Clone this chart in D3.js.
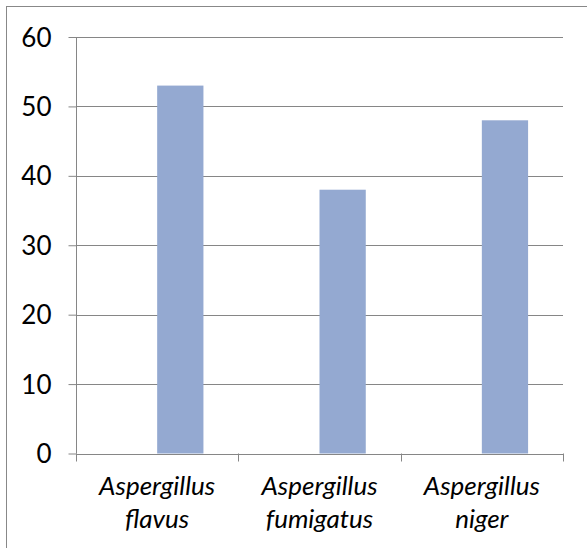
<!DOCTYPE html>
<html><head><meta charset="utf-8">
<script src="https://cdn.jsdelivr.net/npm/d3@7"></script>
<style>body{margin:0;background:#fff}</style>
</head><body>
<svg id="c" width="587" height="548"></svg>
<script>
const categories = [["Aspergillus","flavus"],["Aspergillus","fumigatus"],["Aspergillus","niger"]];
const values = [53, 38, 48];
const yTicks = [0, 10, 20, 30, 40, 50, 60];

const svg = d3.select("#c");
// outer border (only top & left visible)
svg.append("rect").attr("x", 6.5).attr("y", 6.5).attr("width", 620).attr("height", 600)
  .attr("fill", "none").attr("stroke", "#888").attr("stroke-width", 1);

const x0 = 76, x1 = 563, yTop = 37, yBot = 453.5;
const x = d3.scaleBand().domain(d3.range(categories.length)).range([x0, x1]);
const y = d3.scaleLinear().domain([0, 60]).range([yBot, yTop]);
const font = "Lato, 'Open Sans', sans-serif";

// gridlines
svg.append("g").selectAll("line").data(yTicks.filter(d => d > 0)).join("line")
  .attr("x1", x0).attr("x2", x1)
  .attr("y1", d => Math.round(y(d)) + 0.5).attr("y2", d => Math.round(y(d)) + 0.5)
  .attr("stroke", "#868686").attr("stroke-width", 1);

// bars (offset: start at band center, like an empty second series)
const bw = x.bandwidth();
svg.append("g").selectAll("rect").data(values).join("rect")
  .attr("x", (d, i) => x(i) + bw / 2)
  .attr("width", bw * 0.285)
  .attr("y", d => y(d))
  .attr("height", d => y(0) - y(d))
  .attr("fill", "#94a9d1");

// y axis
const yAxis = d3.axisLeft(y).tickValues(yTicks).tickSize(8).tickPadding(17);
const gy = svg.append("g").attr("transform", `translate(${x0 + 0.5},0)`).call(yAxis);
gy.select(".domain").attr("stroke", "#868686").attr("d", `M0,${yTop}V${yBot}`);
gy.selectAll(".tick line").attr("stroke", "#868686");
gy.selectAll(".tick text").attr("font-family", font).attr("font-size", 26).attr("fill", "#000")
  .attr("dy", "0.35em");

// x axis line and ticks
const gx = svg.append("g");
gx.append("line").attr("x1", x0).attr("x2", x1 + 0.5)
  .attr("y1", Math.round(yBot) + 0.5).attr("y2", Math.round(yBot) + 0.5)
  .attr("stroke", "#868686");
const bounds = d3.range(categories.length + 1).map(i => i < categories.length ? x(i) : x1);
gx.selectAll("line.t").data(bounds).join("line").attr("class", "t")
  .attr("x1", d => Math.round(d) + 0.5).attr("x2", d => Math.round(d) + 0.5)
  .attr("y1", yBot).attr("y2", yBot + 8).attr("stroke", "#868686");

// category labels
const lab = svg.append("g").selectAll("text").data(categories).join("text")
  .attr("text-anchor", "middle").attr("font-family", font).attr("font-style", "italic")
  .attr("font-size", 26).attr("fill", "#000");
lab.each(function(d, i) {
  const t = d3.select(this);
  d.forEach((s, j) => {
    t.append("tspan").attr("x", x(i) + bw / 2).attr("y", 495 + j * 33).text(s);
  });
});
</script>
</body></html>
